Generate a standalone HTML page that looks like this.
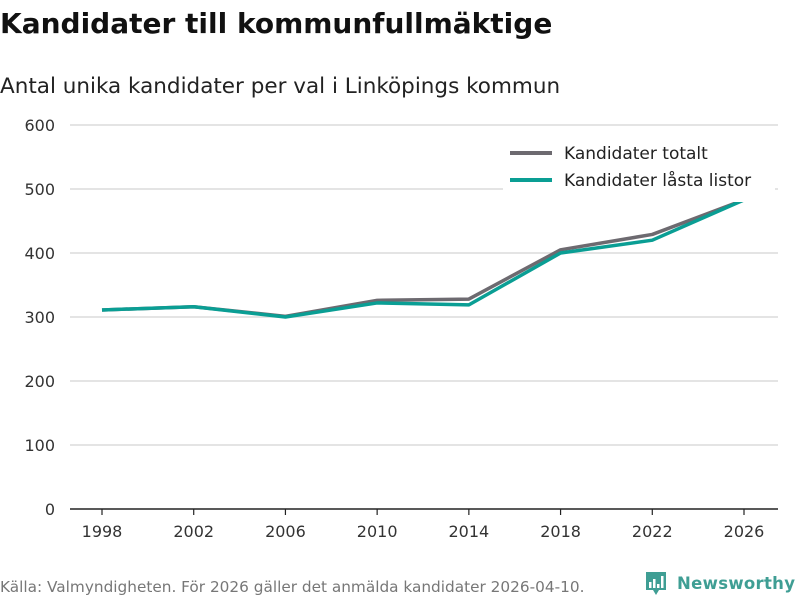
<!DOCTYPE html>
<html><head><meta charset="utf-8"><style>
body{margin:0;background:#fff;font-family:"DejaVu Sans","Liberation Sans",sans-serif;}
#wrap{position:relative;width:800px;height:600px;overflow:hidden}
</style></head><body><div id="wrap">
<svg id="svg" width="800" height="600" xmlns="http://www.w3.org/2000/svg">
<text x="0" y="33" font-size="28" font-weight="bold" fill="#111">Kandidater till kommunfullmäktige</text>
<text x="0" y="93" font-size="21.5" fill="#222">Antal unika kandidater per val i Linköpings kommun</text>
<g id="grid"></g><g id="lines"></g>
<rect x="503" y="138" width="272" height="64" fill="#fff"/>
<line x1="510" y1="153" x2="552" y2="153" stroke="#6d6a70" stroke-width="4"/>
<text x="564" y="159" font-size="17" fill="#222">Kandidater totalt</text>
<line x1="510" y1="180" x2="552" y2="180" stroke="#0a9e94" stroke-width="4"/>
<text x="564" y="186" font-size="17" fill="#222">Kandidater låsta listor</text>
<text x="0" y="592" font-size="15.3" fill="#777">Källa: Valmyndigheten. För 2026 gäller det anmälda kandidater 2026-04-10.</text>
<g>
<path d="M646 572 h20 v18 h-7 l-3 5 l-3 -5 h-7 z" fill="#3f9e94"/>
<rect x="649" y="582" width="2.5" height="6" fill="#fff"/><rect x="653" y="579" width="2.5" height="9" fill="#fff"/><rect x="657" y="584" width="2.5" height="4" fill="#fff"/><rect x="661" y="576" width="2.5" height="12" fill="#fff"/>
<text x="677" y="589" font-size="16.5" font-weight="bold" fill="#3f9e94" textLength="118">Newsworthy</text>
</g>
</svg>
<script>
const years=["1998","2002","2006","2010","2014","2018","2022","2026"];
const totalValues=[311,316,301,326,328,405,429,483];
const lockedValues=[311,316,300,322,319,400,420,483];
const yTicks=[0,100,200,300,400,500,600];
const NS="http://www.w3.org/2000/svg";
const x=i=>102+i*(744-102)/(years.length-1);
const y=v=>509-v*(384/600);
const grid=document.getElementById('grid'),lines=document.getElementById('lines');
function mk(tag,attrs,parent){const e=document.createElementNS(NS,tag);for(const k in attrs)e.setAttribute(k,attrs[k]);parent.appendChild(e);return e;}
yTicks.forEach(t=>{
 if(t>0){const l=mk('line',{x1:70,x2:778,y1:y(t),y2:y(t),stroke:'#dcdcdc','stroke-width':1.5},grid);
 
 }
 const tx=mk('text',{x:55,y:y(t)+6,'font-size':16,fill:'#333','text-anchor':'end'},grid);tx.textContent=t;
 
 
});
const ax=mk('line',{x1:70,x2:778,y1:509,y2:509,stroke:'#222','stroke-width':1.5},grid);


years.forEach((yr,i)=>{
 const tk=mk('line',{x1:x(i),x2:x(i),y1:509,y2:515,stroke:'#222','stroke-width':1.2},grid);
 
 
 const t=mk('text',{x:x(i),y:537,'font-size':16,fill:'#333','text-anchor':'middle'},grid);t.textContent=yr;
 
 
});
function series(vals,color,name){
 const p=mk('path',{d:vals.map((v,i)=>(i?'L':'M')+x(i)+' '+y(v)).join(' '),fill:'none',stroke:color,'stroke-width':3.5,'stroke-linejoin':'round'},lines);
 
 
}
series(totalValues,'#6d6a70','line-kandidater-totalt');
series(lockedValues,'#0a9e94','line-kandidater-lasta-listor');
</script>
</div></body></html>
